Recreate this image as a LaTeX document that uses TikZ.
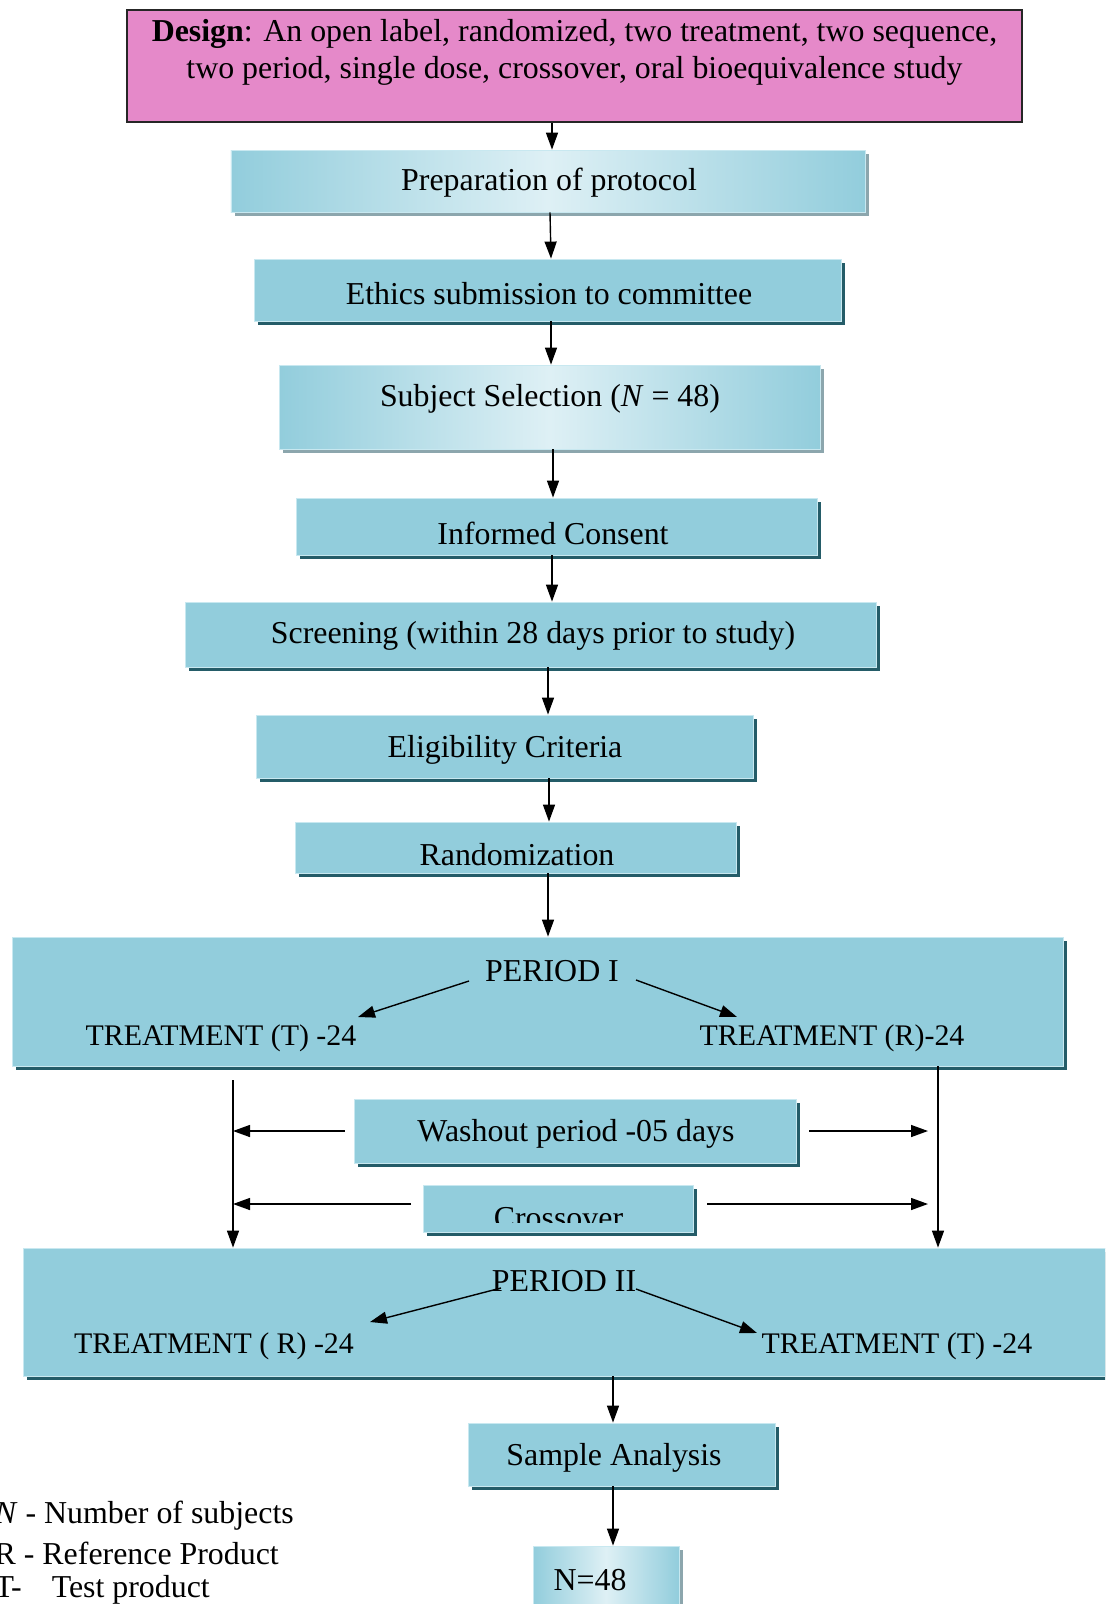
\documentclass[tikz,border=0pt]{standalone}
\usepackage{fontspec}
\setmainfont{Liberation Serif}
\usetikzlibrary{arrows.meta,shadows}
\definecolor{boxc}{RGB}{146,205,220}
\definecolor{lightc}{RGB}{222,240,245}
\definecolor{shadc}{RGB}{36,92,104}
\definecolor{gshadc}{RGB}{140,166,173}
\definecolor{pinkc}{RGB}{229,137,201}
\definecolor{edgec}{RGB}{200,232,240}
\tikzset{
  box/.style={rectangle, fill=boxc, draw=edgec, line width=0.8bp, inner sep=0pt,
    drop shadow={shadow xshift=4bp, shadow yshift=-4bp, fill=shadc, opacity=1}},
  gbox/.style={rectangle, left color=boxc, right color=boxc, middle color=lightc,
    draw=edgec, line width=0.8bp, inner sep=0pt,
    drop shadow={shadow xshift=4bp, shadow yshift=-4bp, fill=gshadc, opacity=1}},
  designbox/.style={rectangle, fill=pinkc, draw=black!85, line width=1.5bp, inner sep=0pt},
  txt/.style={font=\fontsize{32}{37}\selectfont, inner sep=0pt, text=black, yshift=-3bp},
  ttxt/.style={txt, font=\fontsize{30}{36}\selectfont},
  arr/.style={-{Triangle[length=17bp,width=12bp]}, line width=1.4bp, black},
}
\begin{document}
\begin{tikzpicture}[x=1bp,y=-1bp]
\useasboundingbox (0,0) rectangle (1105,1604);
\clip (0,0) rectangle (1105,1604);

% column coordinates
\coordinate (c548) at (548,0);
\coordinate (c549) at (549,0);
\coordinate (c550) at (550,0);
\coordinate (c551) at (551,0);
\coordinate (c552) at (552,0);
\coordinate (c553) at (553,0);
\coordinate (c233) at (233,0);
\coordinate (c928) at (928,0);
\coordinate (c938) at (938,0);
\coordinate (c613) at (613,0);

% boxes
\node[designbox, minimum width=895bp, minimum height=112bp] (design) at (574.5,66) {};
\node[txt, align=center] (designt) at (574.5,49)
  {\textbf{Design}: An open label, randomized, two treatment, two sequence,\\
   two period, single dose, crossover, oral bioequivalence study};

\node[gbox, minimum width=634bp, minimum height=62bp] (prep) at (548,181) {};
\node[txt] (prept) at (549,180) {Preparation of protocol};

\node[box, minimum width=587bp, minimum height=62bp] (ethics) at (547.5,290) {};
\node[txt] (ethicst) at (549,291) {Ethics submission to committee};

\node[gbox, minimum width=541bp, minimum height=84bp] (subj) at (549.5,407) {};
\node[txt] (subjt) at (550,396) {Subject Selection (\textit{N} = 48)};

\node[box, minimum width=521bp, minimum height=57bp] (consent) at (556.5,526.5) {};
\node[txt] (consentt) at (553,530) {Informed Consent};

\node[box, minimum width=691bp, minimum height=65bp] (screen) at (530.5,634.5) {};
\node[txt] (screent) at (533,633) {Screening (within 28 days prior to study)};

\node[box, minimum width=497bp, minimum height=63bp] (elig) at (504.5,746.5) {};
\node[txt] (eligt) at (505,747) {Eligibility Criteria};

\node[box, minimum width=441bp, minimum height=51bp] (rand) at (515.5,847.5) {};
\node[txt] (randt) at (517,852) {Randomization};

\node[box, minimum width=1051bp, minimum height=129bp] (p1) at (537.5,1001.5) {};
\node[txt] (p1t) at (552,968) {PERIOD I};
\node[ttxt] (t1) at (221,1035) {TREATMENT (T) -24};
\node[ttxt] (r1) at (832,1035) {TREATMENT (R)-24};

\node[box, minimum width=442bp, minimum height=64bp] (wash) at (575,1131) {};
\node[txt] (washt) at (576,1131) {Washout period -05 days};

\node[box, minimum width=270bp, minimum height=47bp] (cross) at (558,1208.5) {};
\begin{scope}
  \clip (423,1185) rectangle (693,1222);
  \node[txt, anchor=base] (crosst) at (558.5,1225) {Crossover};
\end{scope}

\node[box, minimum width=1097bp, minimum height=128bp] (p2) at (571.5,1312) {};
\node[txt] (p2t) at (564,1278) {PERIOD II};
\node[ttxt] (r2) at (214,1343) {TREATMENT ( R) -24};
\node[ttxt] (t2) at (897,1343) {TREATMENT (T) -24};

\node[box, minimum width=307bp, minimum height=63bp] (sample) at (621.5,1454.5) {};
\node[txt] (samplet) at (614,1455) {Sample Analysis};

\node[gbox, minimum width=146bp, minimum height=74bp] (n48) at (606,1583) {};
\node[txt] (n48t) at (590,1577) {N=48};

% legend
\node[txt, anchor=east] (leg1) at (294,1513) {\textit{N} - Number of subjects};
\node[txt, anchor=east] (leg2) at (279,1550) {R - Reference Product};
\node[txt, anchor=east] (leg3) at (210,1587) {T-\hspace{30bp}Test product};

% main connectors
\draw[arr] (design.south -| c552) -- (prep.north -| c552);
\draw[arr] (prep.south -| c550) -- (ethics.north -| c551);
\draw[arr] (ethics.south -| c551) -- (subj.north -| c551);
\draw[arr] (subj.south -| c553) -- (consent.north -| c553);
\draw[arr] (consent.south -| c552) -- (screen.north -| c552);
\draw[arr] (screen.south -| c548) -- (elig.north -| c548);
\draw[arr] (elig.south -| c549) -- (rand.north -| c549);
\draw[arr] (rand.south -| c548) -- (p1.north -| c548);

% period I internal arrows
\coordinate (a1s) at (469,981);
\coordinate (a1e) at (358,1017);
\coordinate (a2s) at (636,980);
\coordinate (a2e) at (737,1017);
\draw[arr] (a1s) -- (a1e);
\draw[arr] (a2s) -- (a2e);

% vertical lines between periods
\coordinate (ltop) at (233,1080);
\draw[arr] (ltop) -- (p2.north -| c233);
\draw[arr] (p1.south -| c938) -- (p2.north -| c938);

% washout / crossover arrows
\draw[arr] ([xshift=-9bp]wash.west) -- (wash.west -| c233);
\draw[arr] ([xshift=13bp]wash.east) -- (wash.east -| c928);
\coordinate (cl) at (411,1204);
\coordinate (cr) at (707,1204);
\draw[arr] (cl) -- (cl -| c233);
\draw[arr] (cr) -- (cr -| c928);

% period II internal arrows
\coordinate (b1s) at (501,1288);
\coordinate (b1e) at (370,1322);
\coordinate (b2s) at (636,1289);
\coordinate (b2e) at (757,1333);
\draw[arr] (b1s) -- (b1e);
\draw[arr] (b2s) -- (b2e);

% final connectors
\draw[arr] (p2.south -| c613) -- (sample.north -| c613);
\draw[arr] (sample.south -| c613) -- (n48.north -| c613);
\end{tikzpicture}
\end{document}
